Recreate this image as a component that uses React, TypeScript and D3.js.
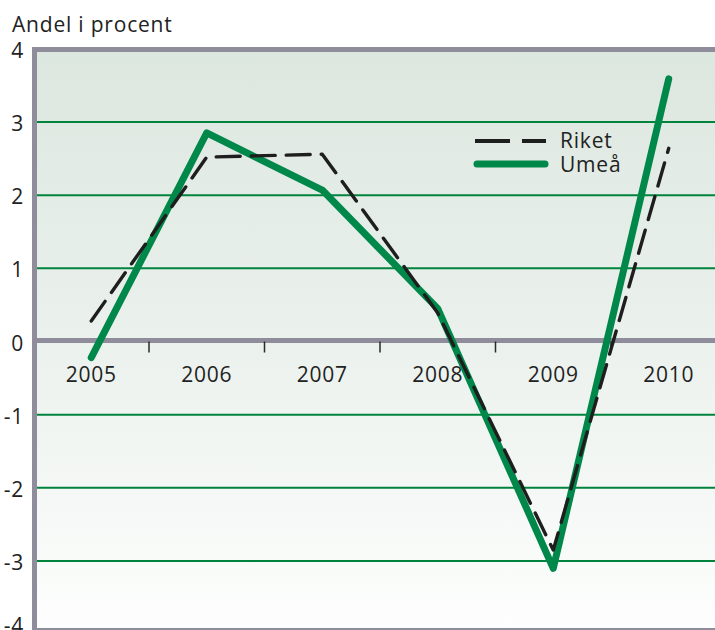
import React from "react";
import * as d3 from "d3";

const years = ["2005", "2006", "2007", "2008", "2009", "2010"];
const riket = [0.28, 2.52, 2.56, 0.39, -2.85, 2.64];
const umea = [-0.22, 2.85, 2.07, 0.45, -3.1, 3.59];
const yTicks = [4, 3, 2, 1, 0, -1, -2, -3, -4];
const gridValues = [3, 2, 1, -1, -2, -3];

const W = 715;
const H = 630;
const FONT = "'Open Sans', 'DejaVu Sans', sans-serif";
const FS = 21;
const LS = 0.8;

export default function App() {
  const plotLeft = 37;
  const plotTop = 52;
  const x = d3.scaleBand<string>().domain(years).range([33.5, 33.5 + 115.5 * 6]);
  const y = d3.scaleLinear().domain([-4, 4]).range([634.2, 48.8]);
  const cx = (d: string) => (x(d) as number) + x.bandwidth() / 2;

  const line = d3
    .line<number>()
    .x((_, i) => cx(years[i]))
    .y((v) => y(v));

  const bottom = 628;

  return (
    <svg
      width={W}
      height={H}
      style={{ position: "absolute", left: 0, top: 0, background: "#fff" }}
      fontFamily={FONT}
      letterSpacing={LS}
    >
      <defs>
        <linearGradient id="bg" x1="0" y1="0" x2="0" y2="1">
          <stop offset="0%" stopColor="#dce7df" />
          <stop offset="50%" stopColor="#ebf1ed" />
          <stop offset="100%" stopColor="#fdfefd" />
        </linearGradient>
        <clipPath id="clip">
          <rect x={plotLeft} y={plotTop} width={W - plotLeft} height={bottom - plotTop} />
        </clipPath>
      </defs>
      <rect x={plotLeft} y={plotTop} width={W - plotLeft} height={bottom - plotTop} fill="url(#bg)" />

      {gridValues.map((v) => (
        <line key={v} x1={plotLeft} x2={W} y1={y(v)} y2={y(v)} stroke="#00843d" strokeWidth={2} />
      ))}

      {/* zero axis */}
      <line x1={plotLeft} x2={W} y1={y(0) - 1} y2={y(0) - 1} stroke="#8f8d9b" strokeWidth={5} />
      {years.slice(1).map((yr) => (
        <line
          key={yr}
          x1={x(yr) as number}
          x2={x(yr) as number}
          y1={y(0)}
          y2={y(0) + 11}
          stroke="#2a2a2a"
          strokeWidth={1.5}
        />
      ))}
      {years.map((yr) => (
        <text key={yr} x={cx(yr)} y={382} textAnchor="middle" fontSize={FS} fill="#222">
          {yr}
        </text>
      ))}

      <g clipPath="url(#clip)">
        <path
          d={line(umea) || ""}
          fill="none"
          stroke="#00874a"
          strokeWidth={7}
          strokeLinecap="round"
          strokeLinejoin="round"
        />
        <path
          d={line(riket) || ""}
          fill="none"
          stroke="#1e1e1e"
          strokeWidth={3.4}
          strokeDasharray="24 11"
          strokeLinecap="round"
          strokeLinejoin="round"
        />
      </g>

      {/* frame */}
      <rect x={32} y={47} width={W - 32} height={5} fill="#8f8d9b" />
      <rect x={32} y={47} width={5} height={H - 47} fill="#8f8d9b" />
      <line x1={32} x2={W} y1={629} y2={629} stroke="#8f8d9b" strokeWidth={2} />

      {yTicks.map((v) => (
        <text
          key={v}
          x={24}
          y={Math.min(y(v) + 1.5, 625)}
          dy="0.36em"
          textAnchor="end"
          fontSize={FS}
          fill="#222"
        >
          {v}
        </text>
      ))}

      <text x={12} y={32} fontSize={FS} fill="#222">
        Andel i procent
      </text>

      {/* legend */}
      <line x1={475} x2={546} y1={141} y2={141} stroke="#1e1e1e" strokeWidth={4} strokeDasharray="35 12" />
      <text x={560} y={148} fontSize={FS} fill="#222">
        Riket
      </text>
      <line x1={477} x2={545} y1={164} y2={164} stroke="#00874a" strokeWidth={7} strokeLinecap="round" />
      <text x={560} y={172} fontSize={FS} fill="#222">
        Umeå
      </text>
    </svg>
  );
}
